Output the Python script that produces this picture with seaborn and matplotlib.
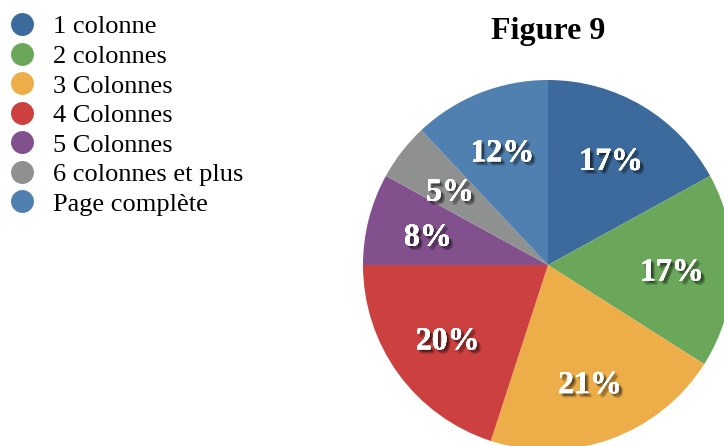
import matplotlib
matplotlib.use("Agg")
import matplotlib.pyplot as plt
import matplotlib.patheffects as pe
import matplotlib.transforms as mtransforms
from matplotlib.lines import Line2D
import seaborn as sns

categories = ["1 colonne", "2 colonnes", "3 Colonnes", "4 Colonnes",
              "5 Colonnes", "6 colonnes et plus", "Page complète"]
shares = [17, 17, 21, 20, 8, 5, 12]
hex_colors = ["#3d6a9c", "#6aa75a", "#edae4a", "#cc4040",
              "#83508e", "#8f9090", "#5080b0"]
title = "Figure 9"

sns.set_theme(style="white")
plt.rcParams["font.family"] = ["Liberation Serif", "DejaVu Serif"]
plt.rcParams["text.color"] = "black"
palette = sns.color_palette(hex_colors)

W, H = 724, 446
fig = plt.figure(figsize=(W / 100, H / 100), dpi=100)
ax = fig.add_axes([0, 0, 1, 1])

wedges, texts, autotexts = ax.pie(
    shares, colors=palette, startangle=90, counterclock=False,
    center=(548, H - 265), radius=185, frame=True,
    autopct=lambda p: f"{p:.0f}%", pctdistance=0.67,
    wedgeprops=dict(linewidth=0, clip_on=False),
    textprops=dict(color="white", fontsize=23, fontweight="bold"),
)
ax.set_xlim(0, W)
ax.set_ylim(0, H)
ax.set_aspect("equal")
ax.axis("off")

# soft drop shadow under the percentage labels, labels nudged slightly down
soft_shadow = [pe.withSimplePatchShadow(offset=(dx, dy), shadow_rgbFace="black", alpha=0.12)
               for dx, dy in [(1, -1), (2, -2), (3, -3), (2, -1), (1, -2), (3, -2), (2, -3)]]
nudge = mtransforms.ScaledTranslation(0, -4 / 100, fig.dpi_scale_trans)
for t in autotexts:
    t.set_path_effects(soft_shadow + [pe.Normal()])
    t.set_transform(t.get_transform() + nudge)

ax.text(548, H - 31, title, ha="center", va="center",
        fontsize=23, fontweight="bold", color="black")

handles = [Line2D([0], [0], marker="o", linestyle="none", markersize=16.5,
                  markerfacecolor=c, markeredgewidth=0) for c in palette]
ax.legend(handles, categories, loc="upper left",
          bbox_to_anchor=(9 / W, 1 - 15 / H), bbox_transform=fig.transFigure,
          frameon=False, fontsize=19, handlelength=1.0, handletextpad=0.67,
          labelspacing=0.23, borderaxespad=0, borderpad=0, labelcolor="black")

fig.savefig("out.png", dpi=100)
